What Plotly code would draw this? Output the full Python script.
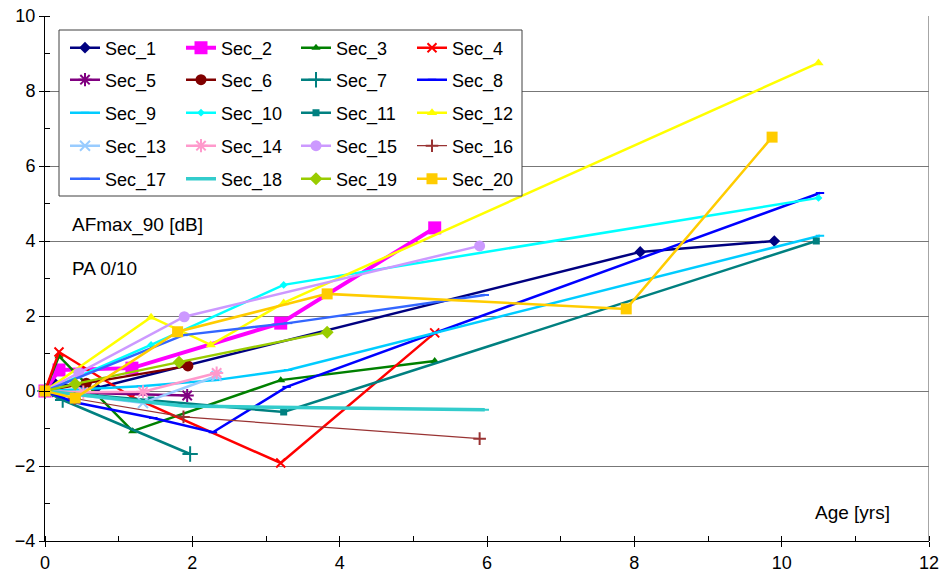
import plotly.graph_objects as go

names = [f"Sec_{i}" for i in range(1, 21)]

x_vals = [
    [0, 0.14, 0.7, 8.08, 9.9],            # Sec_1
    [0, 0.19, 1.18, 3.2, 5.29],           # Sec_2
    [0, 0.19, 1.19, 3.2, 5.29],           # Sec_3
    [0, 0.19, 1.18, 3.2, 5.29],           # Sec_4
    [0, 0.16, 1.93],                      # Sec_5
    [0, 0.56, 1.94],                      # Sec_6
    [0, 0.24, 1.97],                      # Sec_7
    [0, 0.4, 1.47, 2.28, 3.28, 10.52],    # Sec_8
    [0, 1.3, 2.31, 3.3, 10.52],           # Sec_9
    [0, 1.44, 3.24, 10.5],                # Sec_10
    [0, 1.44, 3.24, 10.47],               # Sec_11
    [0, 1.44, 2.25, 3.24, 10.5],          # Sec_12
    [0, 1.33, 2.33],                      # Sec_13
    [0, 0.52, 1.33, 2.33],                # Sec_14
    [0, 0.46, 1.89, 5.9],                 # Sec_15
    [0, 0.4, 1.88, 5.9],                  # Sec_16
    [0, 1.88, 3.3, 5.97],                 # Sec_17
    [0, 1.88, 5.97],                      # Sec_18
    [0, 0.41, 1.82, 3.83],                # Sec_19
    [0, 0.41, 1.8, 3.83, 7.89, 9.87],     # Sec_20
]

y_vals = [
    [0, 0.19, 0.08, 3.71, 4.0],
    [0, 0.56, 0.61, 1.81, 4.35],
    [0, 0.93, -1.07, 0.29, 0.8],
    [0, 1.04, -0.16, -1.92, 1.55],
    [0, -0.03, -0.12],
    [0, 0.21, 0.67],
    [0, -0.24, -1.68],
    [0, -0.3, -0.72, -1.1, 0.11, 5.28],
    [0, 0.13, 0.29, 0.56, 4.14],
    [0, 1.23, 2.83, 5.15],
    [0, -0.24, -0.56, 4.0],
    [0, 1.97, 1.23, 2.35, 8.75],
    [0, -0.32, 0.4],
    [0, -0.03, -0.02, 0.48],
    [0, 0.48, 1.98, 3.87],
    [0, -0.2, -0.69, -1.27],
    [0, 1.49, 1.81, 2.56],
    [0, -0.4, -0.5],
    [0, 0.19, 0.77, 1.57],
    [0, -0.19, 1.58, 2.59, 2.19, 6.77],
]

x_ticks = [0, 2, 4, 6, 8, 10, 12]
y_ticks = [-4, -2, 0, 2, 4, 6, 8, 10]

colors = ["#000080", "#FF00FF", "#008000", "#FF0000", "#800080", "#800000", "#008080",
          "#0000FF", "#00CCFF", "#00FFFF", "#008080", "#FFFF00", "#99CCFF", "#FF99CC",
          "#CC99FF", "#993333", "#3366FF", "#33CCCC", "#99CC00", "#FFCC00"]
symbols = ["diamond", "square", "triangle-up", "x-thin-open", "asterisk-open", "circle",
           "cross-thin-open", "line-ew-open", "line-ew-open", "diamond", "square", "triangle-up",
           "x-thin-open", "asterisk-open", "circle", "cross-thin-open", "line-ew-open",
           "line-ew-open", "diamond", "square"]
msizes = [9, 13, 8, 9, 11, 11, 11, 6, 6, 6, 7, 9, 10, 11, 11, 9, 6, 6, 10, 11]
lwidths = [2.5, 4, 2.5, 2.5, 2.5, 2.5, 2.5, 2.5, 2.5, 2.5, 2.5, 2.5, 2.5, 2.5, 2.5, 1.2, 2.5, 3.5, 2.5, 2.5]
mline_colors = [None] * 20
mline_colors[15] = "#DDDDDD"
mline_colors[17] = "#33CCCC"

# plot area in pixels
W, H = 945, 580
L, R, T, B = 45, 16, 16, 39
pw, ph = W - L - R, H - T - B

def px2paper_x(px):
    return (px - L) / pw

def px2paper_y(py):
    return (H - B - py) / ph

fig = go.Figure()

col_text_x = [105, 221, 336, 452]
row_y = [48, 80, 113, 146, 179]

layout_legends = {}
for i, (nm, xs, ys) in enumerate(zip(names, x_vals, y_vals)):
    is_open = symbols[i].endswith("open")
    mlc = mline_colors[i] or colors[i]
    marker = dict(symbol=symbols[i], size=msizes[i], color=colors[i],
                  line=dict(color=mlc, width=(2 if is_open else 0)))
    lg = "legend" if i == 0 else f"legend{i + 1}"
    fig.add_trace(go.Scatter(
        x=xs, y=ys, name=nm, mode="lines+markers",
        line=dict(color=colors[i], width=lwidths[i]),
        marker=marker, cliponaxis=False, legend=lg,
    ))
    r, c = divmod(i, 4)
    layout_legends[lg] = dict(
        x=px2paper_x(col_text_x[c] - 40), y=px2paper_y(row_y[r]),
        xanchor="left", yanchor="middle", bgcolor="rgba(0,0,0,0)", borderwidth=0,
        font=dict(family="Liberation Sans, Arial, sans-serif", size=18, color="black"),
        itemwidth=30,
    )

font = dict(family="Liberation Sans, Arial, sans-serif", size=18, color="black")
afont = dict(family="Liberation Sans, Arial, sans-serif", size=19, color="black")

fig.update_layout(
    width=W, height=H,
    margin=dict(l=L, r=R, t=T, b=B, autoexpand=False),
    paper_bgcolor="white", plot_bgcolor="white",
    font=font,
    showlegend=True,
    xaxis=dict(range=[0, 12], tickvals=x_ticks, showgrid=False, zeroline=False,
               showline=True, linecolor="black", linewidth=1, automargin=False,
               ticks="outside", ticklen=5, tickcolor="black",
               minor=dict(dtick=1, ticks="inside", ticklen=5, tickcolor="black", showgrid=False),
               tickfont=font),
    yaxis=dict(range=[-4, 10], tickvals=y_ticks, showgrid=True, gridcolor="#777777",
               gridwidth=1.3, zeroline=False, automargin=False,
               showline=True, linecolor="black", linewidth=1,
               ticks="outside", ticklen=5, tickcolor="black",
               minor=dict(dtick=1, ticks="inside", ticklen=5, tickcolor="black", showgrid=False),
               tickfont=font),
    shapes=[
        dict(type="line", xref="x", yref="y", x0=12, x1=12, y0=-4, y1=10,
             line=dict(color="#777777", width=1.3), layer="below"),
        dict(type="rect", xref="paper", yref="paper",
             x0=px2paper_x(59), x1=px2paper_x(522), y0=px2paper_y(196), y1=px2paper_y(30),
             fillcolor="white", line=dict(color="#404040", width=1), layer="above"),
    ],
    annotations=[
        dict(text="AFmax_90 [dB]", x=px2paper_x(68), y=px2paper_y(225), xref="paper", yref="paper",
             xanchor="left", yanchor="middle", showarrow=False, bgcolor="white", borderpad=3,
             font=afont),
        dict(text="PA 0/10", x=px2paper_x(68), y=px2paper_y(268), xref="paper", yref="paper",
             xanchor="left", yanchor="middle", showarrow=False, borderpad=3, font=afont),
        dict(text="Age [yrs]", x=px2paper_x(894), y=px2paper_y(512), xref="paper", yref="paper",
             xanchor="right", yanchor="middle", showarrow=False, borderpad=3, font=afont),
    ],
    **layout_legends,
)

fig.write_html("out.html")
